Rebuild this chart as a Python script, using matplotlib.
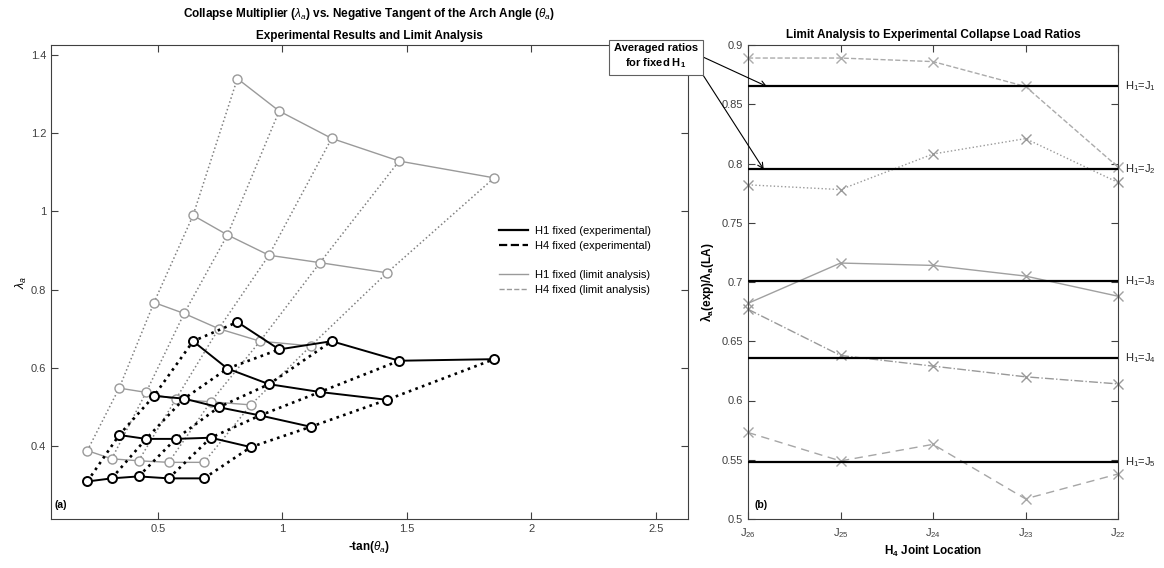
import numpy as np
import matplotlib
matplotlib.use("Agg")
import matplotlib.pyplot as plt
from matplotlib.lines import Line2D
from matplotlib.ticker import FuncFormatter

plt.rcParams['font.family'] = ['Liberation Sans', 'DejaVu Sans']
plt.rcParams['mathtext.fontset'] = 'custom'
plt.rcParams['mathtext.rm'] = 'Liberation Sans'
plt.rcParams['mathtext.it'] = 'Liberation Sans:italic'
plt.rcParams['mathtext.bf'] = 'Liberation Sans:bold'

# -tan(theta_a) for each test, rows = fixed H1, columns = H4 position
tan_rows = [
    [0.216, 0.314, 0.422, 0.543, 0.685],
    [0.344, 0.452, 0.571, 0.712, 0.873],
    [0.484, 0.605, 0.744, 0.910, 1.114],
    [0.641, 0.779, 0.946, 1.151, 1.420],
    [0.819, 0.987, 1.198, 1.469, 1.851],
]
# experimental collapse multipliers
exp_rows = [
    [0.309, 0.317, 0.322, 0.317, 0.317],
    [0.428, 0.418, 0.418, 0.421, 0.397],
    [0.528, 0.521, 0.499, 0.478, 0.449],
    [0.668, 0.598, 0.558, 0.538, 0.518],
    [0.717, 0.647, 0.668, 0.618, 0.622],
]
# limit analysis collapse multipliers
la_rows = [
    [0.388, 0.367, 0.362, 0.358, 0.358],
    [0.548, 0.537, 0.519, 0.513, 0.505],
    [0.767, 0.739, 0.700, 0.668, 0.656],
    [0.990, 0.940, 0.888, 0.869, 0.843],
    [1.340, 1.257, 1.187, 1.129, 1.086],
]

# right panel: ratios exp / LA
h4_joints = ['J$_{26}$', 'J$_{25}$', 'J$_{24}$', 'J$_{23}$', 'J$_{22}$']
ratio_j1 = [0.889, 0.889, 0.886, 0.865, 0.797]
ratio_j2 = [0.782, 0.778, 0.808, 0.821, 0.784]
ratio_j3 = [0.682, 0.716, 0.714, 0.705, 0.688]
ratio_j4 = [0.677, 0.638, 0.629, 0.620, 0.614]
ratio_j5 = [0.573, 0.549, 0.563, 0.517, 0.538]
avg_ratios = [0.865, 0.795, 0.701, 0.636, 0.548]
avg_labels = ['H$_1$=J$_1$', 'H$_1$=J$_2$', 'H$_1$=J$_3$', 'H$_1$=J$_4$', 'H$_1$=J$_5$']

W, H = 1164, 568
fig = plt.figure(figsize=(W / 100, H / 100), dpi=100)


def px_axes(l, t, r, b):
    return fig.add_axes([l / W, 1 - b / H, (r - l) / W, (b - t) / H])


axis_col = '#404040'
gray = '#9a9a9a'


def style_axes(ax):
    ax.tick_params(direction='in', top=True, right=True, length=5, width=0.8,
                   labelsize=8, colors=axis_col)
    for s in ax.spines.values():
        s.set_color(axis_col)
        s.set_linewidth(0.8)


fmt = FuncFormatter(lambda v, p: '%g' % round(v, 4))

# ---- left panel
ax1 = px_axes(51, 45, 688, 519)
tx = np.array(tan_rows)
ex = np.array(exp_rows)
la = np.array(la_rows)

for c in range(tx.shape[1]):
    ax1.plot(tx[:, c], la[:, c], ':', color='#808080', lw=1.1, zorder=1)
for r in range(tx.shape[0]):
    ax1.plot(tx[r], la[r], '-', color=gray, lw=1.0, marker='o', ms=6.5,
             mfc='white', mec=gray, mew=1.0, zorder=2)
for c in range(tx.shape[1]):
    ax1.plot(tx[:, c], ex[:, c], ':', color='black', lw=1.9, zorder=3)
for r in range(tx.shape[0]):
    ax1.plot(tx[r], ex[r], '-', color='black', lw=1.4, marker='o', ms=6.5,
             mfc='white', mec='black', mew=1.4, zorder=4)

ax1.set_xlim(0.07, 2.63)
ax1.set_ylim(0.213, 1.426)
ax1.set_xticks([0.5, 1, 1.5, 2, 2.5])
ax1.set_yticks([0.4, 0.6, 0.8, 1.0, 1.2, 1.4])
ax1.xaxis.set_major_formatter(fmt)
ax1.yaxis.set_major_formatter(fmt)
style_axes(ax1)
ax1.set_title('Collapse Multiplier ($\\lambda_a$) vs. Negative Tangent of the Arch Angle ($\\theta_a$)\n'
              'Experimental Results and Limit Analysis',
              fontsize=8.5, fontweight='bold', linespacing=1.9, pad=4)
ax1.set_xlabel('-tan($\\theta_a$)', fontsize=8.5, fontweight='bold', labelpad=4)
ax1.set_ylabel('$\\lambda_a$', fontsize=9, labelpad=1)
ax1.text(0.006, 0.02, '(a)', transform=ax1.transAxes, fontsize=7.5,
         fontweight='bold', ha='left', va='bottom')

handles = [
    Line2D([], [], color='black', lw=1.6),
    Line2D([], [], color='black', lw=1.6, ls='--'),
    Line2D([], [], color='none'),
    Line2D([], [], color=gray, lw=1.0),
    Line2D([], [], color=gray, lw=1.0, ls='--'),
]
labels = ['H1 fixed (experimental)', 'H4 fixed (experimental)', ' ',
          'H1 fixed (limit analysis)', 'H4 fixed (limit analysis)']
ax1.legend(handles, labels, loc='upper left', bbox_to_anchor=(0.703, 0.618),
           frameon=False, fontsize=8, borderaxespad=0, borderpad=0,
           handlelength=2.6, handletextpad=0.7, labelspacing=0.42)

# ---- right panel
ax2 = px_axes(748, 45, 1118, 519)
xpos = np.arange(len(h4_joints))
series = [ratio_j1, ratio_j2, ratio_j3, ratio_j4, ratio_j5]
styles = [('--', '#ababab'), (':', '#999999'), ('-', '#a0a0a0'),
          ('-.', '#999999'), ((0, (6, 4)), '#a6a6a6')]
for vals, (ls, col) in zip(series, styles):
    ax2.plot(xpos, vals, linestyle=ls, color=col, lw=1.0, marker='x', ms=7,
             mew=1.0, clip_on=False, zorder=2)
for v, lab in zip(avg_ratios, avg_labels):
    ax2.axhline(v, color='black', lw=1.6, zorder=3)
    ax2.annotate(lab, xy=(1, v), xycoords=('axes fraction', 'data'),
                 xytext=(5, 0), textcoords='offset points', fontsize=8,
                 ha='left', va='center', color='#262626', annotation_clip=False)

ax2.set_xlim(0, 4)
ax2.set_ylim(0.5, 0.9)
ax2.set_xticks(xpos)
ax2.set_xticklabels(h4_joints)
ax2.set_yticks(np.arange(0.5, 0.901, 0.05))
ax2.yaxis.set_major_formatter(fmt)
style_axes(ax2)
ax2.tick_params(axis='x', pad=5)
ax2.set_title('Limit Analysis to Experimental Collapse Load Ratios',
              fontsize=8.5, fontweight='bold', pad=5)
ax2.set_xlabel('H$_\\mathbf{4}$ Joint Location', fontsize=8.5, fontweight='bold', labelpad=3)
ax2.set_ylabel('λ$_\\mathbf{a}$(exp)/λ$_\\mathbf{a}$(LA)', fontsize=8.5,
               fontweight='bold', labelpad=4)
ax2.text(0.018, 0.02, '(b)', transform=ax2.transAxes, fontsize=7.5,
         fontweight='bold', ha='left', va='bottom')

# annotation box with arrows to the averaged lines
fig.text(656 / W, 1 - 56.5 / H, 'Averaged ratios\nfor fixed H$_\\mathbf{1}$',
         fontsize=8, fontweight='bold', ha='center', va='center',
         linespacing=1.3, zorder=10,
         bbox=dict(boxstyle='square,pad=0.45', fc='white', ec='#606060', lw=0.8))
ax2.annotate('', xy=(0.205, avg_ratios[0]), xycoords='data',
             xytext=(703, H - 57), textcoords='figure pixels',
             arrowprops=dict(arrowstyle='->', color='black', lw=0.8,
                             shrinkA=0, shrinkB=0), annotation_clip=False)
ax2.annotate('', xy=(0.17, avg_ratios[1]), xycoords='data',
             xytext=(703, H - 75), textcoords='figure pixels',
             arrowprops=dict(arrowstyle='->', color='black', lw=0.8,
                             shrinkA=0, shrinkB=0), annotation_clip=False)

fig.savefig('out.png', dpi=100)
